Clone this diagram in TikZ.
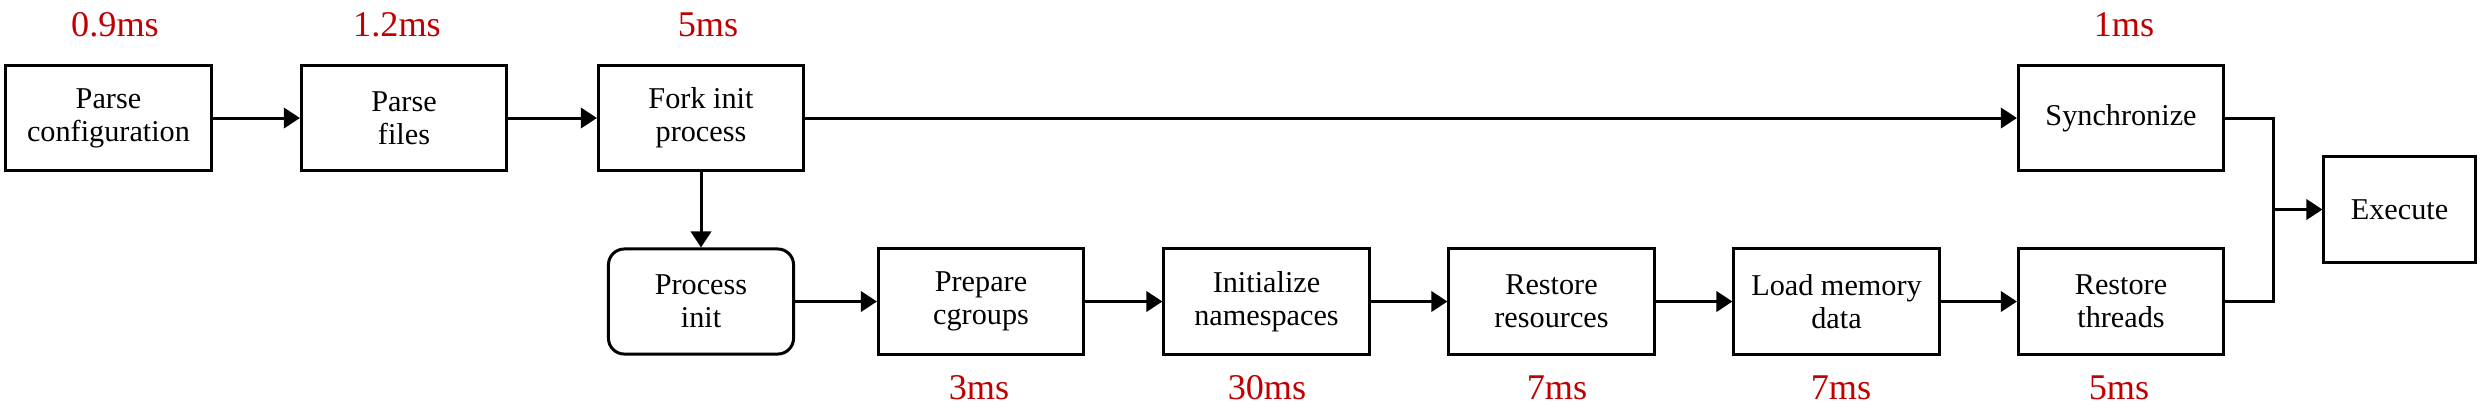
\documentclass[tikz,border=0pt]{standalone}
\usepackage{fontspec}
\setmainfont{Liberation Serif}
\usetikzlibrary{arrows.meta}
\definecolor{msred}{RGB}{192,0,0}
\begin{document}
\begin{tikzpicture}[x=0.01cm,y=-0.01cm,
  box/.style={draw,line width=0.85pt,minimum width=2.05cm,minimum height=1.05cm,inner sep=0pt,align=center,font=\fontsize{8.6pt}{9.4pt}\selectfont},
  rbox/.style={box,minimum width=1.85cm,rounded corners=4.5pt},
  ebox/.style={box,minimum width=1.51cm},
  tm/.style={text=msred,font=\fontsize{10.3pt}{11pt}\selectfont,inner sep=0pt},
  arr/.style={line width=0.85pt,-{Triangle[length=4.6pt,width=5.8pt]}},
  ln/.style={line width=0.85pt}]
\useasboundingbox (0,0) rectangle (2482,411);
\node[box] (pc) at (108.5,118) {Parse\\configuration};
\node[box] (pf) at (404,118) {Parse\\files};
\node[box] (fork) at (701,118) {Fork init\\process};
\node[box] (sync) at (2121,118) {Synchronize};
\node[rbox] (pinit) at (701,301.5) {Process\\init};
\node[box] (prep) at (981,301.5) {Prepare\\cgroups};
\node[box] (initns) at (1266.5,301.5) {Initialize\\namespaces};
\node[box] (restres) at (1551.5,301.5) {Restore\\resources};
\node[box] (loadmem) at (1836.5,301.5) {Load memory\\data};
\node[box] (restthr) at (2121,301.5) {Restore\\threads};
\node[ebox] (exec) at (2399.5,209.5) {Execute};
\coordinate (j) at (2273,209.5);
\node[tm] (l1) at (115,25) {0.9ms};
\node[tm] (l2) at (397,25) {1.2ms};
\node[tm] (l3) at (708,25) {5ms};
\node[tm] (l4) at (2124,25) {1ms};
\node[tm] (l5) at (979,388) {3ms};
\node[tm] (l6) at (1267,388) {30ms};
\node[tm] (l7) at (1557,388) {7ms};
\node[tm] (l8) at (1841,388) {7ms};
\node[tm] (l9) at (2119,388) {5ms};
\draw[arr] (pc) -- (pf);
\draw[arr] (pf) -- (fork);
\draw[arr] (fork) -- (sync);
\draw[arr] (fork) -- (pinit);
\draw[arr] (pinit) -- (prep);
\draw[arr] (prep) -- (initns);
\draw[arr] (initns) -- (restres);
\draw[arr] (restres) -- (loadmem);
\draw[arr] (loadmem) -- (restthr);
\draw[ln] (sync.east) -| (j);
\draw[ln] (restthr.east) -| (j);
\draw[arr] (j) -- (exec.west);
\end{tikzpicture}
\end{document}
